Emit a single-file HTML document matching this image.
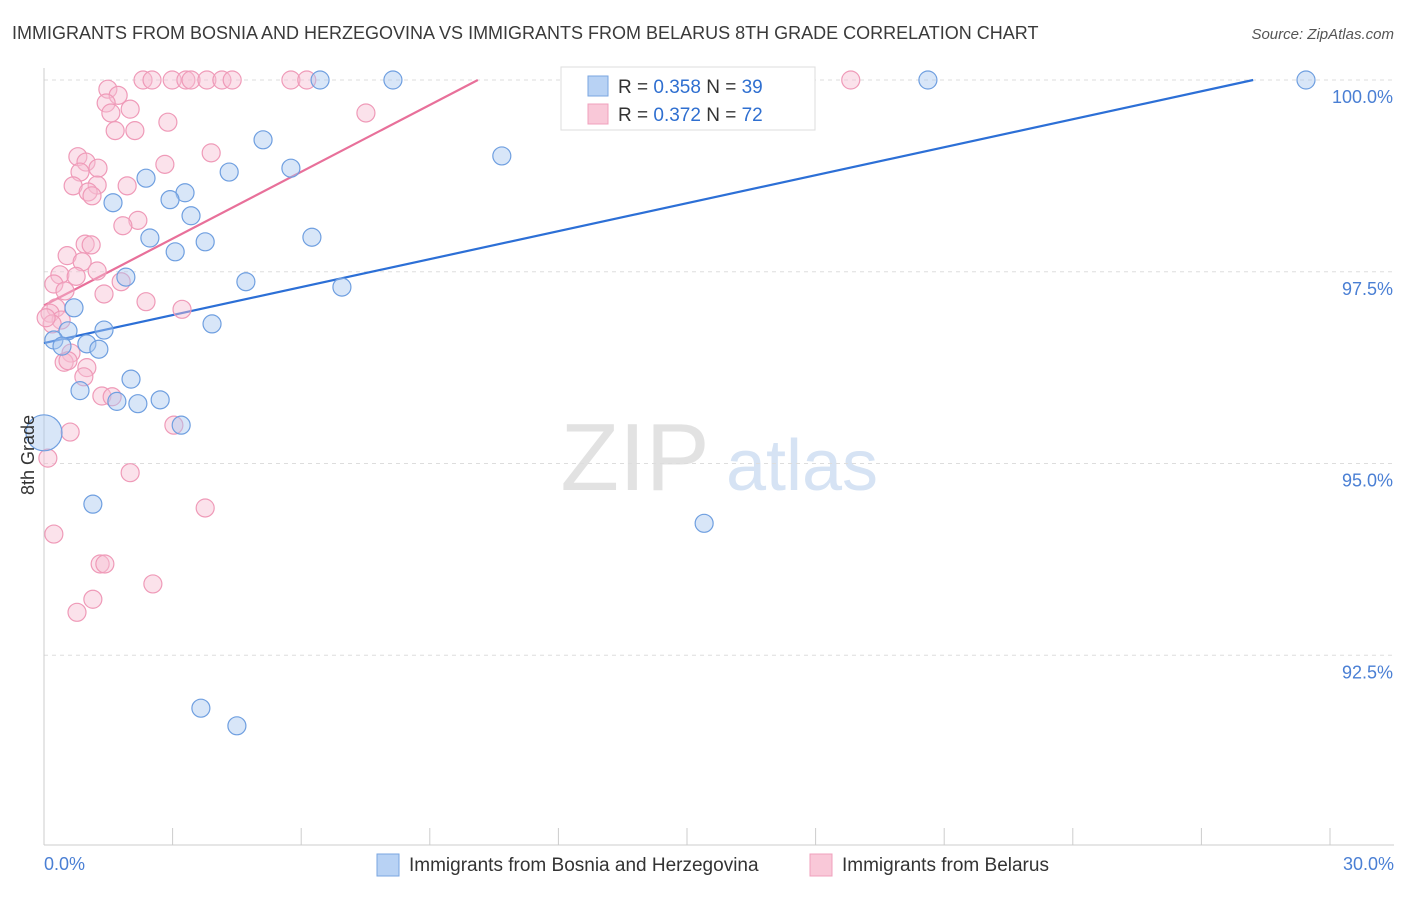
<!DOCTYPE html>
<html><head><meta charset="utf-8"><style>
body{margin:0;background:#fff;font-family:"Liberation Sans",sans-serif;}
svg text{font-family:"Liberation Sans",sans-serif;}
</style></head><body>
<svg id="chart" width="1406" height="892" viewBox="0 0 1406 892" xmlns="http://www.w3.org/2000/svg">
<text x="12" y="39" font-size="18" fill="#3a3a3a">IMMIGRANTS FROM BOSNIA AND HERZEGOVINA VS IMMIGRANTS FROM BELARUS 8TH GRADE CORRELATION CHART</text>
<text x="1394" y="39" font-size="15" fill="#555" font-style="italic" text-anchor="end">Source: ZipAtlas.com</text>
<g>
<text x="635" y="490" font-size="96" fill="#e2e2e2" font-family="Liberation Serif" text-anchor="middle">ZIP</text>
<text x="802" y="490" font-size="72" fill="#d6e3f4" text-anchor="middle">atlas</text>
</g>
<g id="grid"></g><g id="axes"></g><g id="lines"></g><g id="pts"></g>
<text transform="translate(34,455) rotate(-90)" font-size="18" fill="#333" text-anchor="middle">8th Grade</text>
<g>
<rect x="561" y="67" width="254" height="63" fill="#fff" stroke="#ddd"/>
<rect x="588" y="76" width="20" height="20" fill="#b8d2f4" stroke="#7aa6e0"/>
<text x="618" y="93" font-size="19" fill="#333">R = <tspan fill="#2f6fd0">0.358</tspan>   N = <tspan fill="#2f6fd0">39</tspan></text>
<rect x="588" y="104" width="20" height="20" fill="#f9c8d8" stroke="#f0a0bc"/>
<text x="618" y="121" font-size="19" fill="#333">R = <tspan fill="#2f6fd0">0.372</tspan>   N = <tspan fill="#2f6fd0">72</tspan></text>
</g>
<g>
<rect x="377" y="854" width="22" height="22" fill="#b8d2f4" stroke="#7aa6e0"/>
<text x="409" y="871" font-size="19" fill="#333">Immigrants from Bosnia and Herzegovina</text>
<rect x="810" y="854" width="22" height="22" fill="#f9c8d8" stroke="#f0a0bc"/>
<text x="842" y="871" font-size="19" fill="#333">Immigrants from Belarus</text>
</g>
</svg>
<script>
const xTickVals=[0,3,6,9,12,15,18,21,24,27,30];
const yTickVals=[92.5,95,97.5,100];
const yTickLabels=["92.5%","95.0%","97.5%","100.0%"];
const xEndLabels=["0.0%","30.0%"];
const blueX=[6.44,8.14,20.62,29.44,5.11,10.68,5.76,2.38,4.32,3.29,2.94,1.61,3.43,2.47,6.25,3.76,3.06,4.71,1.91,6.95,0.70,3.92,1.40,0.56,0.23,0.42,1.00,1.28,2.03,0.84,1.70,2.19,2.71,3.20,0,1.14,15.40,3.66,4.50];
const blueY=[100,100,100,100,99.22,99.01,98.85,98.72,98.80,98.53,98.44,98.40,98.23,97.94,97.95,97.89,97.76,97.37,97.43,97.30,97.03,96.82,96.74,96.73,96.61,96.53,96.56,96.49,96.10,95.95,95.81,95.78,95.83,95.50,95.40,94.47,94.22,91.81,91.58];
const pinkX=[2.31,2.52,2.99,3.31,3.43,3.80,4.15,4.39,5.76,6.13,18.82,1.49,1.73,1.45,2.01,1.56,7.51,2.89,1.66,2.12,3.90,0.79,0.98,2.82,1.26,0.84,0.68,1.94,1.24,1.03,1.12,2.19,1.84,0.96,1.10,0.54,0.89,0.37,1.24,0.75,0.23,0.49,1.80,1.40,2.38,3.22,0.28,0.14,0.40,0.19,0.05,0.63,0.47,0.56,1.00,0.93,1.35,1.59,0.61,3.03,0.09,2.01,3.76,0.23,1.31,1.42,2.54,1.14,0.77];
const pinkY=[100,100,100,100,100,100,100,100,100,100,100,99.88,99.80,99.70,99.62,99.57,99.57,99.45,99.34,99.34,99.05,99.00,98.93,98.90,98.85,98.80,98.62,98.62,98.63,98.54,98.49,98.17,98.10,97.86,97.85,97.71,97.63,97.46,97.51,97.44,97.34,97.25,97.37,97.21,97.11,97.01,97.03,96.96,96.87,96.82,96.90,96.44,96.32,96.34,96.25,96.13,95.88,95.87,95.41,95.50,95.07,94.88,94.42,94.08,93.69,93.69,93.43,93.23,93.06];
const blueTrend=[96.57,0.1216];
const pinkTrend=[97.06,0.2905];
const X0=44,X1=1330,Y100=80,PXPER=76.7,BOTTOM=845;
const sx=v=>X0+(X1-X0)*v/30;
const sy=v=>Y100+(100-v)*PXPER;
const NS="http://www.w3.org/2000/svg";
function mk(p,t,a){const e=document.createElementNS(NS,t);for(const k in a)e.setAttribute(k,a[k]);p.appendChild(e);return e;}
const grid=document.getElementById('grid'),axes=document.getElementById('axes'),lines=document.getElementById('lines'),pts=document.getElementById('pts');
yTickVals.forEach((v,i)=>{
 const l=mk(grid,'line',{x1:X0,x2:1394,y1:sy(v),y2:sy(v),stroke:'#ddd','stroke-dasharray':'4,4'});
 
 
 const t=mk(axes,'text',{x:1393,y:sy(v)+23,'font-size':18,fill:'#4a7fd4','text-anchor':'end'});
 t.textContent=yTickLabels[i];
 
 
});
const ax=mk(axes,'line',{x1:X0,x2:X0,y1:68,y2:BOTTOM,stroke:'#ccc'});


const bx=mk(axes,'line',{x1:X0,x2:1394,y1:BOTTOM,y2:BOTTOM,stroke:'#ccc'});


xTickVals.forEach(v=>{
 const t=mk(axes,'line',{x1:sx(v),x2:sx(v),y1:828,y2:BOTTOM,stroke:'#ccc'});
 
 
});
[[xTickVals[0],'start',X0],[xTickVals[10],'end',1394]].forEach((d,i)=>{
 const t=mk(axes,'text',{x:d[2],y:870,'font-size':18,fill:'#4a7fd4','text-anchor':d[1]});
 t.textContent=xEndLabels[i];
 
 
});
function trend(tr,color,name){
 let xe=Math.min(30,(100-tr[0])/tr[1]);
 const l=mk(lines,'line',{x1:sx(0),y1:sy(tr[0]),x2:sx(xe),y2:sy(tr[0]+tr[1]*xe),stroke:color,'stroke-width':2.2});
 
 
}
function pointsDraw(xs,ys,fill,stroke,name){
 xs.forEach((x,i)=>{
  const big=(x===0&&name==='bosnia-point');
  const c=mk(pts,'circle',{cx:sx(x),cy:sy(ys[i]),r:big?18:9,fill:fill,'fill-opacity':0.45,stroke:stroke,'stroke-width':1.2});
  
  
 });
}
pointsDraw(pinkX,pinkY,'#f7bfd2','#ef9ab8','belarus-point');
pointsDraw(blueX,blueY,'#a9c8f0','#6f9fe0','bosnia-point');
trend(blueTrend,'#2c6fd6','bosnia-trendline');
trend(pinkTrend,'#e8709a','belarus-trendline');
</script>
</body></html>
